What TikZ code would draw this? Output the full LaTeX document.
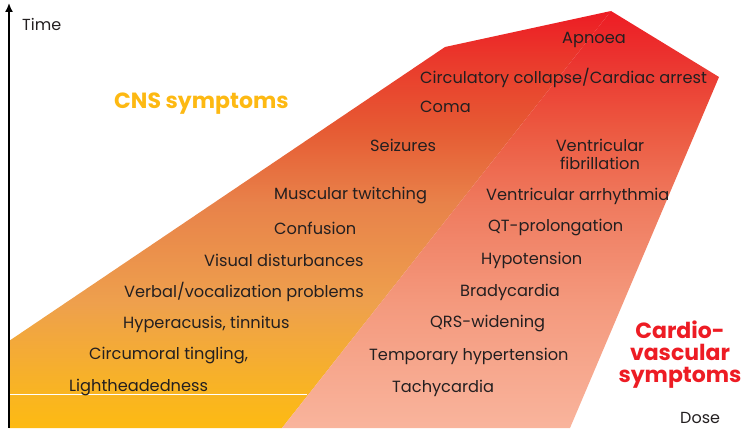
\documentclass[tikz,border=0pt]{standalone}
\usepackage{fontspec}
\setmainfont{Poppins}
\usetikzlibrary{positioning,arrows.meta}

\definecolor{txtgray}{HTML}{231F20}
\definecolor{cnsyellow}{HTML}{FDB913}
\definecolor{cardred}{HTML}{ED1C24}

\definecolor{cnsA}{HTML}{FDBA12}
\definecolor{cnsB}{HTML}{F9B521}
\definecolor{cnsC}{HTML}{EEA04D}
\definecolor{cnsD}{HTML}{E8824A}
\definecolor{cnsE}{HTML}{E65A33}
\definecolor{cnsF}{HTML}{EA3A2C}

\definecolor{cvA}{HTML}{F9B49C}
\definecolor{cvB}{HTML}{F4997D}
\definecolor{cvC}{HTML}{EF7A5E}
\definecolor{cvD}{HTML}{EC5840}
\definecolor{cvE}{HTML}{EB3530}

\pgfdeclareverticalshading{cnsshade}{100bp}{color(0bp)=(cnsA); color(25bp)=(cnsA);
  color(29bp)=(cnsB); color(40bp)=(cnsC); color(52bp)=(cnsD); color(61bp)=(cnsE);
  color(69bp)=(cnsF); color(75bp)=(cardred); color(100bp)=(cardred)}
\pgfdeclareverticalshading{cvshade}{100bp}{color(0bp)=(cvA); color(25bp)=(cvA);
  color(40bp)=(cvB); color(52bp)=(cvC); color(61bp)=(cvD);
  color(69bp)=(cvE); color(75bp)=(cardred); color(100bp)=(cardred)}

\tikzset{
  sym/.style={anchor=west, inner sep=0pt, text=txtgray, font=\fontsize{16.2}{18}\selectfont},
  axislbl/.style={anchor=west, inner sep=0pt, text=txtgray, font=\fontsize{16}{18}\selectfont},
  group/.style={inner sep=0pt, font=\fontsize{22}{22}\selectfont\bfseries, align=center}
}

\begin{document}
\begin{tikzpicture}[x=1pt,y=-1pt]
  \useasboundingbox (0,0) rectangle (743,428);

  \coordinate (O) at (9.00, 428.00);
  \coordinate (Top) at (9.00, 3.00);
  \coordinate (A) at (9.00, 341.00);
  \coordinate (B) at (445.00, 47.00);
  \coordinate (C) at (611.00, 11.00);
  \coordinate (D) at (719.00, 77.00);
  \coordinate (E) at (570.00, 428.00);
  \coordinate (F) at (282.00, 428.00);
  \coordinate (G) at (10.00, 394.00);
  \coordinate (H) at (307.00, 394.00);

  \shade[shading=cnsshade] (O) -- (A) -- (B) -- (C) -- (F) -- cycle;
  \shade[shading=cvshade] (F) -- (C) -- (D) -- (E) -- cycle;
  \draw[white, line width=1pt] (G) -- (H);
  \draw[line width=1.6pt, -{Latex[length=9pt,width=8pt]}] (O) -- (Top);

  \node[axislbl] (time) at (22.00, 24.00) {Time};
  \node[axislbl] (dose) at (680.00, 418.00) {Dose};

  \node[group, text=cnsyellow, anchor=west] (cns) at (114.00, 104.00) {CNS symptoms};
  \node[group, text=cardred] (cardio) at (680.00, 355.00) {Cardio-\\vascular\\symptoms};

  % CNS
  \node[sym] (apnoea) at (562.00, 40.00) {Apnoea};
  \node[sym] (collapse) at (420.00, 78.00) {Circulatory collapse/Cardiac arrest};
  \node[sym] (coma) at (420.00, 107.00) {Coma};
  \node[sym] (seizures) at (370.00, 145.00) {Seizures};
  \node[sym] (twitch) at (274.00, 196.00) {Muscular twitching};
  \node[sym] (confusion) at (274.00, 228.00) {Confusion};
  \node[sym] (visual) at (204.00, 260.00) {Visual disturbances};
  \node[sym] (verbal) at (124.00, 292.00) {Verbal/vocalization problems};
  \node[sym] (hyper) at (123.00, 324.00) {Hyperacusis, tinnitus};
  \node[sym] (tingle) at (89.00, 356.00) {Circumoral tingling,};
  \node[sym] (light) at (69.00, 388.00) {Lightheadedness};

  % cardiovascular
  \node[sym, anchor=center, align=center] (vfib) at (600.00, 154.00) {Ventricular\\fibrillation};
  \node[sym] (varr) at (486.00, 196.00) {Ventricular arrhythmia};
  \node[sym] (qt) at (488.00, 228.00) {QT-prolongation};
  \node[sym] (hypo) at (481.00, 260.00) {Hypotension};
  \node[sym] (brady) at (460.00, 292.00) {Bradycardia};
  \node[sym] (qrs) at (430.00, 324.00) {QRS-widening};
  \node[sym] (temp) at (369.00, 356.00) {Temporary hypertension};
  \node[sym] (tachy) at (392.00, 388.00) {Tachycardia};
\end{tikzpicture}
\end{document}
